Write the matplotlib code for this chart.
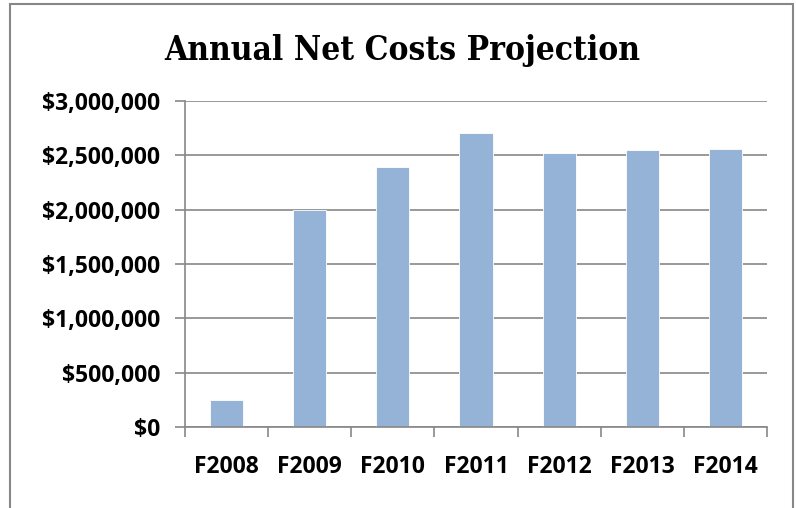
import matplotlib.pyplot as plt
from matplotlib.patches import Rectangle
from matplotlib.ticker import FuncFormatter

years = ['F2008', 'F2009', 'F2010', 'F2011', 'F2012', 'F2013', 'F2014']
net_costs = [250000, 2000000, 2390000, 2710000, 2520000, 2550000, 2560000]
y_ticks = [0, 500000, 1000000, 1500000, 2000000, 2500000, 3000000]

fig = plt.figure(figsize=(7.96, 5.08), dpi=100)
ax = fig.add_axes([185/796, 1 - 427/508, (767 - 185)/796, (427 - 101)/508])

# chart border (cut off at the bottom in the reference)
fig.patches.append(Rectangle((10/796, -0.05), (793 - 10)/796, 1.05 - 4/508,
                             transform=fig.transFigure, fill=False,
                             edgecolor='#878787', linewidth=1.5))

x = range(len(years))
ax.bar(x, net_costs, width=0.4, color='#95B3D7', edgecolor='white',
       linewidth=0.6, zorder=2)

ax.set_xlim(-0.5, len(years) - 0.5)
ax.set_ylim(0, 3000000)
ax.set_yticks(y_ticks)
ax.yaxis.set_major_formatter(FuncFormatter(lambda v, p: '${:,.0f}'.format(v)))
ax.set_xticks([i + 0.5 for i in range(-1, len(years))], minor=False)
ax.set_xticklabels([])
ax.set_xticks(list(x), minor=True)
ax.set_xticklabels(years, minor=True)

ax.grid(axis='y', color='#878787', linewidth=1.2, zorder=1)
ax.set_axisbelow(True)
for s in ['top', 'right']:
    ax.spines[s].set_visible(False)
for s in ['left', 'bottom']:
    ax.spines[s].set_color('#878787')
    ax.spines[s].set_linewidth(1.2)

ax.tick_params(axis='y', which='major', length=7, width=1.2, color='#878787',
               labelsize=16.5, pad=11)
ax.tick_params(axis='x', which='major', length=7, width=1.2, color='#878787')
ax.tick_params(axis='x', which='minor', length=0, labelsize=16.5, pad=20)
for lbl in ax.get_yticklabels() + ax.get_xticklabels(minor=True):
    lbl.set_fontweight('bold')
    lbl.set_fontfamily('Open Sans')

fig.text(402/796, 1 - 60/508, 'Annual Net Costs Projection', ha='center',
         va='baseline', fontsize=24, fontweight='bold', fontstretch='condensed',
         family='DejaVu Serif')

fig.savefig('out.png', dpi=100)
